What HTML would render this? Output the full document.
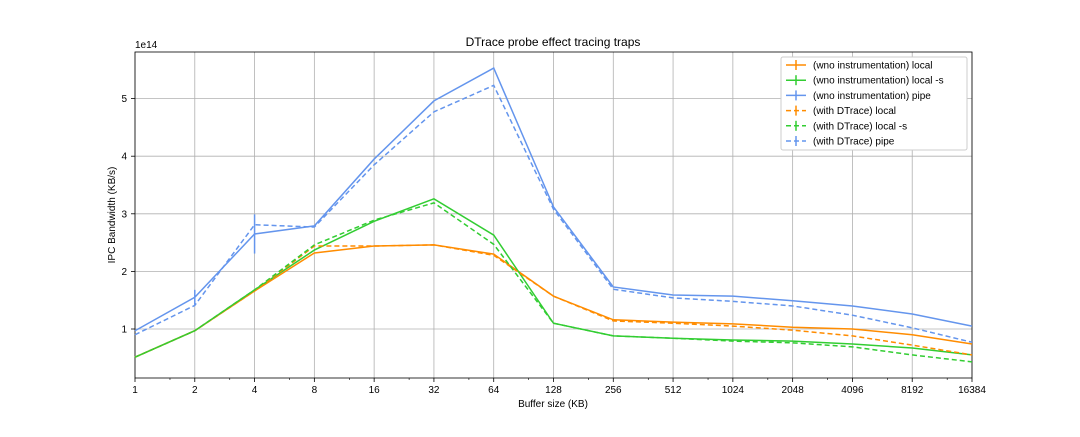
<!DOCTYPE html>
<html><head><meta charset="utf-8"><style>
body{margin:0;background:#fff;font-family:"Liberation Sans",sans-serif}
svg text{font-family:"Liberation Sans",sans-serif;fill:#000}
</style></head><body>
<svg id="chart" width="1080" height="432" xmlns="http://www.w3.org/2000/svg"></svg>
<script>
const categories=[1,2,4,8,16,32,64,128,256,512,1024,2048,4096,8192,16384];
const yTicks=[1,2,3,4,5];
const wnoLocal=[0.51,0.97,1.66,2.32,2.44,2.46,2.30,1.57,1.16,1.12,1.09,1.03,1.00,0.90,0.74];
const wnoLocalS=[0.51,0.97,1.68,2.37,2.87,3.26,2.63,1.10,0.88,0.84,0.81,0.79,0.74,0.67,0.55];
const wnoPipe=[0.97,1.55,2.65,2.79,3.95,4.96,5.53,3.12,1.73,1.59,1.57,1.49,1.40,1.26,1.05];
const withLocal=[0.51,0.97,1.66,2.44,2.44,2.46,2.28,1.57,1.14,1.10,1.05,0.98,0.88,0.72,0.55];
const withLocalS=[0.51,0.97,1.68,2.46,2.89,3.19,2.47,1.10,0.88,0.84,0.79,0.76,0.69,0.55,0.43];
const withPipe=[0.90,1.41,2.81,2.77,3.85,4.77,5.23,3.08,1.69,1.54,1.48,1.40,1.24,1.02,0.77];
const wnoPipeErr=[0,0.13,0.34,0,0,0,0,0,0,0,0,0,0,0,0];
const seriesNames=["(wno instrumentation) local","(wno instrumentation) local -s","(wno instrumentation) pipe","(with DTrace) local","(with DTrace) local -s","(with DTrace) pipe"];

const svg=document.getElementById('chart');
const NS="http://www.w3.org/2000/svg";
const L=135,R=972,T=52,B=378;
const xs=i=>L+(R-L)*Math.log2(categories[i])/Math.log2(categories[categories.length-1]);
const ys=v=>386.6-57.6*v;
function mk(t,a,p){const e=document.createElementNS(NS,t);for(const k in a)e.setAttribute(k,a[k]);(p||svg).appendChild(e);return e;}

// grid
categories.forEach((c,i)=>{
 const g=mk('line',{x1:xs(i),x2:xs(i),y1:T,y2:B,stroke:'#b0b0b0','stroke-width':0.8});
 
 
 mk('line',{x1:xs(i),x2:xs(i),y1:B,y2:B+4,stroke:'#000','stroke-width':0.8});
 const t=mk('text',{x:xs(i),y:B+15,'text-anchor':'middle','font-size':10});
 t.textContent=c;
 
 
 if(i<categories.length-1){for(let k=2;k<=3;k++){const mx=xs(i)+(xs(i+1)-xs(i))*Math.log2(k*0.5+0.5);}}
});
// minor ticks
for(let i=0;i<categories.length-1;i++){const mx=xs(i)+(xs(i+1)-xs(i))*Math.log2(1.5);mk('line',{x1:mx,x2:mx,y1:B,y2:B+2,stroke:'#000','stroke-width':0.6});}
yTicks.forEach(v=>{
 const g=mk('line',{x1:L,x2:R,y1:ys(v),y2:ys(v),stroke:'#b0b0b0','stroke-width':0.8});
 
 
 mk('line',{x1:L-4,x2:L,y1:ys(v),y2:ys(v),stroke:'#000','stroke-width':0.8});
 const t=mk('text',{x:L-8,y:ys(v)+3.5,'text-anchor':'end','font-size':10});
 t.textContent=v;
 
 
});
const fr=mk('rect',{x:L,y:T,width:R-L,height:B-T,fill:'none',stroke:'#000','stroke-width':0.8});



const series=[[wnoLocal,'#ff8c00',''],[wnoLocalS,'#32cd32',''],[wnoPipe,'#6495ed',''],[withLocal,'#ff8c00','5,3'],[withLocalS,'#32cd32','5,3'],[withPipe,'#6495ed','5,3']];
const snames=['series-wno-local','series-wno-local-s','series-wno-pipe','series-with-local','series-with-local-s','series-with-pipe'];
series.forEach((s,j)=>{
 const p=mk('polyline',{points:s[0].map((v,i)=>xs(i)+','+ys(v)).join(' '),fill:'none',stroke:s[1],'stroke-width':1.5,'stroke-dasharray':s[2]});
 
 
});
wnoPipeErr.forEach((e,i)=>{if(e>0){
 const l=mk('line',{x1:xs(i),x2:xs(i),y1:ys(wnoPipe[i]-e),y2:ys(wnoPipe[i]+e),stroke:'#6495ed','stroke-width':1.5});
 
 
}});

// texts
let t=mk('text',{x:553,y:46,'text-anchor':'middle','font-size':12});t.textContent='DTrace probe effect tracing traps';


t=mk('text',{x:135,y:48,'font-size':10});t.textContent='1e14';


t=mk('text',{x:553,y:407,'text-anchor':'middle','font-size':10});t.textContent='Buffer size (KB)';


t=mk('text',{x:115,y:215,'text-anchor':'middle','font-size':10,transform:'rotate(-90 115 215)'});t.textContent='IPC Bandwidth (KB/s)';



// legend
const lg=mk('g',{});


mk('rect',{x:781,y:57,width:186,height:93,fill:'#fff',stroke:'#ccc',rx:2},lg);
series.forEach((s,j)=>{
 const y=65+j*15.2;
 const e=mk('g',{},lg);
 
 
 mk('line',{x1:786,x2:806,y1:y,y2:y,stroke:s[1],'stroke-width':1.5,'stroke-dasharray':s[2]},e);
 mk('line',{x1:796,x2:796,y1:y-5,y2:y+5,stroke:s[1],'stroke-width':1.5},e);
 const tx=mk('text',{x:813,y:y+3.5,'font-size':10},e);tx.textContent=seriesNames[j];
});
</script>
</body></html>
